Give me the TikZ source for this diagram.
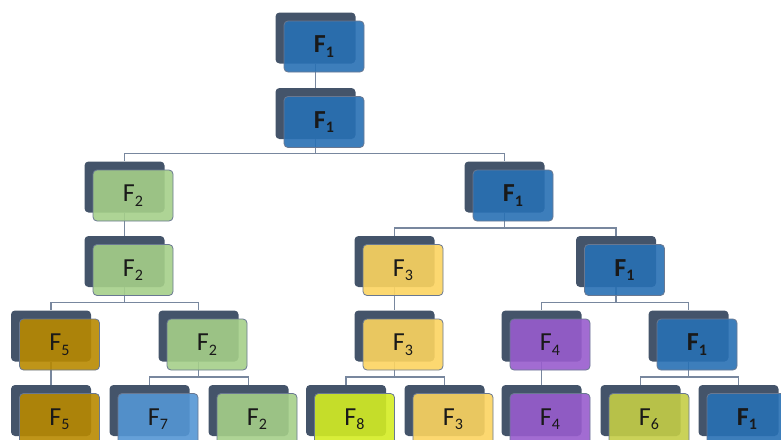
\documentclass[tikz,border=0pt]{standalone}
\usepackage{fontspec}
\setmainfont{Carlito}
\definecolor{shadowc}{RGB}{68,84,106}
\definecolor{edgec}{RGB}{105,120,145}
\definecolor{linec}{RGB}{120,135,158}
\definecolor{blueF}{RGB}{40,112,180}
\definecolor{greenF}{RGB}{165,207,137}
\definecolor{goldF}{RGB}{184,137,0}
\definecolor{yellowF}{RGB}{252,212,96}
\definecolor{purpleF}{RGB}{152,92,205}
\definecolor{lblueF}{RGB}{84,150,212}
\definecolor{limeF}{RGB}{212,236,36}
\definecolor{oliveF}{RGB}{196,205,70}
\tikzset{
  back/.style={fill=shadowc, rounded corners=4pt, minimum width=80pt, minimum height=51pt, inner sep=0pt},
  front/.style={draw=edgec, line width=0.8pt, fill=#1, fill opacity=0.9, text opacity=1,
    rounded corners=4pt, minimum width=80pt, minimum height=51pt, inner sep=0pt,
    text=black!90, font=\fontsize{26}{28}\selectfont},
  conn/.style={draw=linec, line width=1.5pt},
}
\newcommand\frontbox[4]{\node[front=#2] (#1f) at ([shift={(8.5pt,-8.5pt)}]#1.center) {#3F\raisebox{-4.5pt}{\fontsize{16}{17}\selectfont #4}};}
\begin{document}
\begin{tikzpicture}[x=1pt,y=-1pt]
\useasboundingbox (0,0) rectangle (781,439);
% shadow boxes
\node[back] (n0) at (315.5,38) {};
\node[back] (n1) at (315.5,113.5) {};
\node[back] (n2a) at (124.5,187) {};
\node[back] (n2b) at (504.5,187) {};
\node[back] (n3a) at (124.5,261.5) {};
\node[back] (n3c) at (394.5,261.5) {};
\node[back] (n3d) at (616,261.5) {};
\node[back] (n4a) at (51,336) {};
\node[back] (n4b) at (198.5,336) {};
\node[back] (n4c) at (394.5,336) {};
\node[back] (n4d) at (541.5,336) {};
\node[back] (n4e) at (688.5,336) {};
\node[back] (n5a) at (51,410.5) {};
\node[back] (n5b) at (149.5,410.5) {};
\node[back] (n5c) at (248.5,410.5) {};
\node[back] (n5d) at (346,410.5) {};
\node[back] (n5e) at (444.5,410.5) {};
\node[back] (n5f) at (541.5,410.5) {};
\node[back] (n5g) at (640.5,410.5) {};
\node[back] (n5h) at (738.5,410.5) {};
% connectors
\draw[conn] (n0.south) -- (n1.north);
\draw[conn] (n1.south) |- ([yshift=8pt]n2a.north) -- (n2a.north);
\draw[conn] (n1.south) |- ([yshift=8pt]n2b.north) -- (n2b.north);
\draw[conn] (n2a.south) -- (n3a.north);
\draw[conn] (n2b.south) |- ([yshift=8pt]n3c.north) -- (n3c.north);
\draw[conn] (n2b.south) |- ([yshift=8pt]n3d.north) -- (n3d.north);
\draw[conn] (n3a.south) |- ([yshift=8pt]n4a.north) -- (n4a.north);
\draw[conn] (n3a.south) |- ([yshift=8pt]n4b.north) -- (n4b.north);
\draw[conn] (n3c.south) -- (n4c.north);
\draw[conn] (n3d.south) |- ([yshift=8pt]n4d.north) -- (n4d.north);
\draw[conn] (n3d.south) |- ([yshift=8pt]n4e.north) -- (n4e.north);
\draw[conn] (n4a.south) -- (n5a.north);
\draw[conn] (n4b.south) |- ([yshift=8pt]n5b.north) -- (n5b.north);
\draw[conn] (n4b.south) |- ([yshift=8pt]n5c.north) -- (n5c.north);
\draw[conn] (n4c.south) |- ([yshift=8pt]n5d.north) -- (n5d.north);
\draw[conn] (n4c.south) |- ([yshift=8pt]n5e.north) -- (n5e.north);
\draw[conn] (n4d.south) -- (n5f.north);
\draw[conn] (n4e.south) |- ([yshift=8pt]n5g.north) -- (n5g.north);
\draw[conn] (n4e.south) |- ([yshift=8pt]n5h.north) -- (n5h.north);
% front boxes
\frontbox{n0}{blueF}{\bfseries}{1}
\frontbox{n1}{blueF}{\bfseries}{1}
\frontbox{n2a}{greenF}{}{2}
\frontbox{n2b}{blueF}{\bfseries}{1}
\frontbox{n3a}{greenF}{}{2}
\frontbox{n3c}{yellowF}{}{3}
\frontbox{n3d}{blueF}{\bfseries}{1}
\frontbox{n4a}{goldF}{}{5}
\frontbox{n4b}{greenF}{}{2}
\frontbox{n4c}{yellowF}{}{3}
\frontbox{n4d}{purpleF}{}{4}
\frontbox{n4e}{blueF}{\bfseries}{1}
\frontbox{n5a}{goldF}{}{5}
\frontbox{n5b}{lblueF}{}{7}
\frontbox{n5c}{greenF}{}{2}
\frontbox{n5d}{limeF}{}{8}
\frontbox{n5e}{yellowF}{}{3}
\frontbox{n5f}{purpleF}{}{4}
\frontbox{n5g}{oliveF}{}{6}
\frontbox{n5h}{blueF}{\bfseries}{1}
\end{tikzpicture}
\end{document}
